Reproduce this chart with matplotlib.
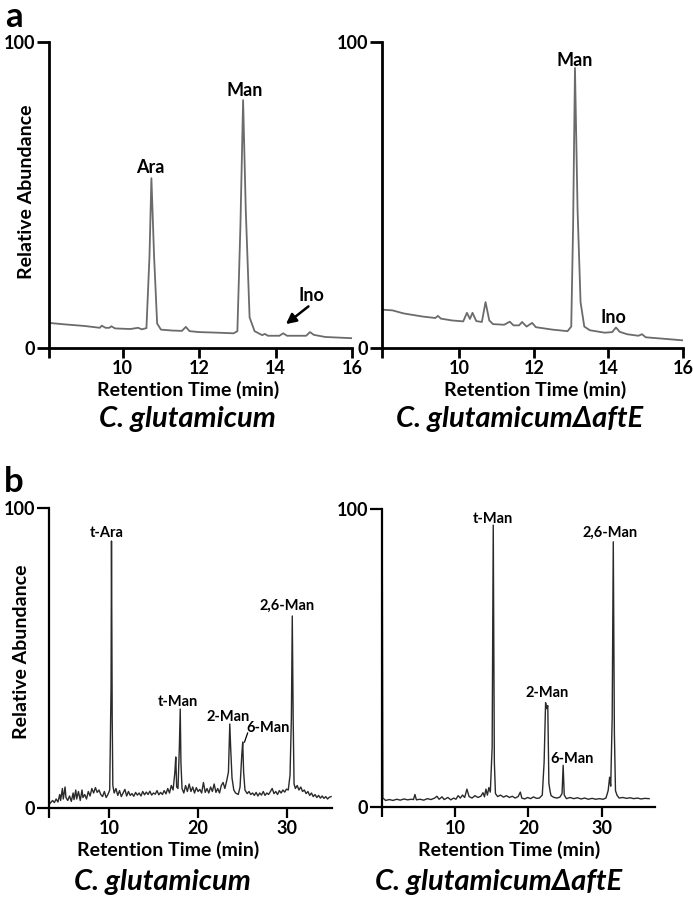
import matplotlib
matplotlib.use("Agg")
import matplotlib.pyplot as plt

plt.rcParams['font.family'] = ['Lato', 'DejaVu Sans']
plt.rcParams['font.weight'] = 'bold'

W, H = 693, 898

# ---- panel a, C. glutamicum (time in min, relative abundance in %) ----
a_wt_t = [8.07, 8.5, 9.0, 9.4, 9.45, 9.55, 9.65, 9.7, 9.8, 10.2, 10.4, 10.5, 10.62,
          10.7, 10.75, 10.82, 10.9, 11.0, 11.3, 11.55, 11.65, 11.75, 12.0, 12.5, 12.9,
          13.0, 13.08, 13.15, 13.22, 13.32, 13.45, 13.65, 13.72, 13.8, 14.1, 14.2, 14.3,
          14.8, 14.9, 15.0, 15.3, 16.0]
a_wt_y = [8.2, 7.7, 7.2, 6.6, 7.3, 6.6, 6.6, 7.1, 6.4, 6.2, 6.6, 6.1, 6.5,
          30, 55.5, 30, 8, 6.0, 5.7, 5.6, 6.9, 5.5, 5.2, 5.0, 4.8,
          5.5, 40, 81, 45, 10, 5.5, 4.2, 4.6, 4.0, 4.0, 4.8, 4.0,
          4.0, 5.2, 4.3, 3.6, 3.2]

# ---- panel a, C. glutamicum dAftE ----
a_mut_t = [7.95, 8.2, 8.5, 9.0, 9.35, 9.42, 9.5, 9.8, 10.1, 10.2, 10.28, 10.35, 10.45,
           10.6, 10.7, 10.8, 10.9, 11.2, 11.35, 11.45, 11.6, 11.68, 11.8, 11.95, 12.05,
           12.5, 12.9, 13.0, 13.05, 13.1, 13.17, 13.25, 13.35, 13.5, 13.9, 14.1, 14.2,
           14.3, 14.5, 14.8, 14.9, 15.0, 15.5, 16.0]
a_mut_y = [12.5, 12.3, 11.3, 10.3, 9.8, 10.5, 9.6, 9.0, 8.7, 11.5, 9.5, 11.5, 8.8,
           8.5, 15.0, 9.0, 7.8, 7.6, 8.6, 7.4, 7.4, 8.5, 7.0, 8.2, 6.8,
           6.0, 5.5, 7, 40, 91.5, 45, 15, 7, 5.8, 5.0, 5.2, 6.7,
           5.3, 4.5, 4.0, 4.5, 3.5, 3.0, 2.5]

# ---- panel b, C. glutamicum ----
b_wt_t = [3.4, 3.7, 3.9, 4.1, 4.3, 4.5, 4.6, 4.8, 4.9, 5.1, 5.2, 5.4, 5.6, 5.8, 6.0,
          6.1, 6.3, 6.4, 6.6, 6.8, 7.0, 7.1, 7.3, 7.5, 7.7, 7.9, 8.1, 8.3, 8.5, 8.7,
          8.9, 9.1, 9.3, 9.5, 9.7, 9.9, 10.1, 10.25, 10.3, 10.38, 10.45, 10.6, 10.8,
          11.0, 11.2, 11.4, 11.6, 11.8, 12.0, 12.2, 12.4, 12.6, 12.8, 13.0, 13.2, 13.4,
          13.6, 13.8, 14.0, 14.2, 14.4, 14.6, 14.8, 15.0, 15.2, 15.4, 15.6, 15.8, 16.0,
          16.2, 16.4, 16.6, 16.8, 17.0, 17.2, 17.4, 17.5, 17.6, 17.75, 17.9, 18.0, 18.08,
          18.2, 18.4, 18.6, 18.8, 19.0, 19.2, 19.4, 19.6, 19.8, 20.0, 20.2, 20.4, 20.6,
          20.8, 21.0, 21.2, 21.4, 21.6, 21.8, 22.0, 22.2, 22.4, 22.6, 22.8, 23.0, 23.2,
          23.4, 23.55, 23.65, 23.8, 24.0, 24.2, 24.5, 24.7, 24.9, 25.0, 25.1, 25.25, 25.5,
          25.7, 25.9, 26.1, 26.3, 26.5, 26.7, 26.9, 27.1, 27.3, 27.5, 27.7, 27.9, 28.1,
          28.3, 28.5, 28.7, 28.9, 29.1, 29.3, 29.5, 29.7, 29.9, 30.1, 30.3, 30.45, 30.55,
          30.65, 30.75, 30.9, 31.1, 31.3, 31.5, 31.7, 31.9, 32.1, 32.3, 32.5, 32.7, 32.9,
          33.1, 33.3, 33.5, 33.7, 33.9, 34.1, 34.3, 34.5, 34.7, 34.9]
b_wt_y = [1.5, 2.5, 1.8, 3.0, 2.0, 4.5, 2.5, 6.5, 3.0, 7.0, 3.5, 2.5, 4.0, 2.2, 5.0,
          2.8, 6.0, 3.0, 5.5, 2.5, 6.0, 3.5, 4.5, 3.0, 5.5, 4.0, 6.5, 5.0, 6.8, 5.2,
          6.0, 4.5, 3.8, 5.5, 3.5, 4.5, 6.0, 40, 89, 30, 7.5, 5.0, 6.5,
          4.2, 5.8, 3.8, 5.0, 6.2, 4.0, 5.5, 4.2, 4.8, 3.9, 5.2, 4.3, 5.0,
          4.0, 5.5, 4.4, 5.3, 4.5, 5.6, 4.3, 5.0, 4.6, 5.8, 4.4, 5.2, 4.5,
          5.8, 4.7, 6.5, 5.0, 7.5, 6.0, 12, 17, 7, 6.5, 20, 33, 15,
          6.5, 5.0, 7.5, 5.5, 8.0, 5.5, 7.0, 5.0, 6.8, 5.5, 6.2, 5.0, 8.5,
          5.2, 6.5, 5.0, 7.0, 5.5, 8.0, 5.2, 6.5, 5.0, 7.5, 8.5, 6.5, 9.0,
          12, 28, 20, 10, 6.0, 5.0, 4.5, 7.0, 18, 22, 12, 6.0, 4.8,
          5.5, 4.5, 5.0, 4.2, 5.2, 4.0, 5.0, 4.3, 5.5, 4.2, 5.0, 4.5, 5.5,
          6.5, 4.8, 5.5, 4.5, 5.8, 5.0, 6.0, 5.3, 6.3, 6.0, 11, 30, 64,
          30, 8, 6.5, 7.5, 6.0, 7.0, 5.5, 6.0, 4.8, 5.5, 4.2, 5.0, 3.8,
          4.5, 3.5, 4.2, 3.3, 4.0, 3.2, 3.8, 3.0, 3.6, 3.8]

# ---- panel b, C. glutamicum dAftE ----
b_mut_t = [0.03, 0.12, 0.5, 1.0, 1.5, 2.0, 2.5, 3.0, 3.5, 4.0, 4.3, 4.5, 4.7, 5.2,
           5.7, 6.2, 6.7, 7.2, 7.5, 7.8, 8.2, 8.5, 9.0, 9.4, 9.8, 10.1, 10.4, 10.7,
           11.0, 11.3, 11.6, 11.9, 12.3, 12.7, 13.1, 13.5, 13.8, 14.0, 14.2, 14.4, 14.6,
           14.8, 15.05, 15.2, 15.35, 15.5, 15.8, 16.2, 16.6, 17.0, 17.4, 17.8, 18.2, 18.6,
           18.9, 19.1, 19.5, 19.9, 20.3, 20.7, 21.1, 21.5, 21.9, 22.15, 22.35, 22.5, 22.65,
           22.8, 22.95, 23.1, 23.5, 23.9, 24.3, 24.6, 24.75, 24.9, 25.2, 25.7, 26.2, 26.7,
           27.2, 27.7, 28.2, 28.7, 29.2, 29.7, 30.2, 30.6, 30.9, 31.1, 31.25, 31.45, 31.6,
           31.75, 31.9, 32.1, 32.4, 32.9, 33.4, 33.9, 34.4, 34.9, 35.4, 35.9, 36.5]
b_mut_y = [95, 3, 2.2, 2.5, 2.2, 2.6, 2.3, 2.7, 2.4, 2.6, 2.5, 4.2, 2.4, 2.6,
           2.3, 2.8, 2.5, 3.0, 3.6, 2.6, 3.4, 2.5, 3.2, 2.4, 3.0, 2.6, 3.8, 3.0,
           4.0, 3.2, 6.0, 3.5, 3.0, 3.8, 3.2, 3.6, 4.8, 3.4, 6.0, 4.0, 6.5,
           5.0, 20, 94.6, 15, 4.5, 3.5, 4.0, 3.3, 3.8, 3.2, 3.6, 3.0, 3.5,
           5.0, 3.0, 2.7, 3.2, 2.8, 3.4, 2.9, 3.0, 4.0, 15, 35, 33, 34,
           8, 5.5, 3.8, 3.2, 3.0, 3.3, 4.5, 14, 4.0, 2.8, 3.2, 2.8, 3.1,
           2.7, 3.0, 2.6, 2.9, 2.6, 2.8, 2.6, 3.0, 5.5, 10, 7, 30, 89,
           25, 5.5, 4.0, 3.0, 3.2, 2.9, 3.1, 2.8, 3.0, 2.7, 2.9, 2.8]

fig = plt.figure(figsize=(W / 100, H / 100), dpi=100)


def axes_px(x0, y0, x1, y1):
    return fig.add_axes([x0 / W, 1 - y1 / H, (x1 - x0) / W, (y1 - y0) / H])


def style(ax, xlim, xticks, xlabels, spine_w, tick_fs):
    ax.set_xlim(*xlim)
    ax.set_ylim(0, 100)
    for s in ("top", "right"):
        ax.spines[s].set_visible(False)
    for s in ("left", "bottom"):
        ax.spines[s].set_linewidth(spine_w)
    ax.set_xticks(xticks)
    ax.set_xticklabels(xlabels)
    ax.set_yticks([0, 100])
    ax.set_yticklabels(["0", "100"])
    ax.tick_params(axis="x", length=7, width=spine_w, labelsize=tick_fs, pad=2)
    ax.tick_params(axis="y", length=9, width=spine_w, labelsize=tick_fs, pad=1)
    for lab in ax.get_xticklabels() + ax.get_yticklabels():
        lab.set_fontweight("bold")


def ftext(x, y, s, **kw):
    fig.text(x / W, 1 - y / H, s, ha="center", va="center", **kw)


# panel a
pa = dict(ha="center", va="center", fontsize=13, fontweight="bold")
ax1 = axes_px(49, 42, 352, 348)
ax1.plot(a_wt_t, a_wt_y, color="#6b6b6b", lw=1.3)
style(ax1, (8.07, 16), [8.07, 10, 12, 14, 16], ["", "10", "12", "14", "16"], 2.0, 13)
ax1.text(10.71, 59, "Ara", **pa)
ax1.text(13.19, 84, "Man", **pa)
ax1.text(14.95, 17.3, "Ino", **pa)
ax1.annotate("", xy=(14.27, 7.8), xytext=(14.86, 13.6),
             arrowprops=dict(arrowstyle="-|>", color="black", lw=1.8,
                             mutation_scale=15, shrinkA=0, shrinkB=0))

ax2 = axes_px(382, 42, 683, 348)
ax2.plot(a_mut_t, a_mut_y, color="#6b6b6b", lw=1.3)
style(ax2, (7.92, 16), [7.92, 10, 12, 14, 16], ["", "10", "12", "14", "16"], 2.0, 13)
ax2.text(13.08, 94, "Man", **pa)
ax2.text(14.12, 10.1, "Ino", **pa)

# panel b
ax3 = axes_px(49, 508, 332, 808)
ax3.plot(b_wt_t, b_wt_y, color="#2a2a2a", lw=1.0)
style(ax3, (3.3, 35), [3.3, 10, 20, 30], ["", "10", "20", "30"], 1.6, 13)
pk = dict(ha="center", va="center", fontsize=10.5, fontweight="bold")
ax3.text(9.8, 91.7, "t-Ara", **pk)
ax3.text(17.7, 35.3, "t-Man", **pk)
ax3.text(23.4, 30.3, "2-Man", **pk)
ax3.text(27.8, 26.7, "6-Man", **pk)
ax3.plot([25.55, 25.2], [25, 22], color="black", lw=0.9)
ax3.text(30.0, 67.3, "2,6-Man", **pk)

ax4 = axes_px(382, 509, 655, 807)
ax4.plot(b_mut_t, b_mut_y, color="#2a2a2a", lw=1.0)
style(ax4, (0, 37.3), [0, 10, 20, 30], ["", "10", "20", "30"], 1.6, 13)
ax4.text(15.1, 96.6, "t-Man", **pk)
ax4.text(31.2, 91.9, "2,6-Man", **pk)
ax4.text(22.5, 38.3, "2-Man", **pk)
ax4.text(26.0, 16.1, "6-Man", **pk)

# axis titles and strain names
lab = dict(fontsize=14, fontweight="bold")
ftext(188, 390, "Retention Time (min)", **lab)
ftext(535, 390, "Retention Time (min)", **lab)
ftext(168, 850, "Retention Time (min)", **lab)
ftext(509, 850, "Retention Time (min)", **lab)
ftext(27, 192, "Relative Abundance", rotation=90, **lab)
ftext(22, 652, "Relative Abundance", rotation=90, **lab)

sp = dict(fontsize=21, fontweight="bold", fontstyle="italic")
ftext(187, 419, "C. glutamicum", **sp)
ftext(520, 419, "C. glutamicumΔaftE", **sp)
ftext(162, 882, "C. glutamicum", **sp)
ftext(499, 882, "C. glutamicumΔaftE", **sp)

ftext(14, 17, "a", fontsize=25, fontweight="bold")
ftext(14, 482, "b", fontsize=25, fontweight="bold")

fig.savefig("out.png", dpi=100)
